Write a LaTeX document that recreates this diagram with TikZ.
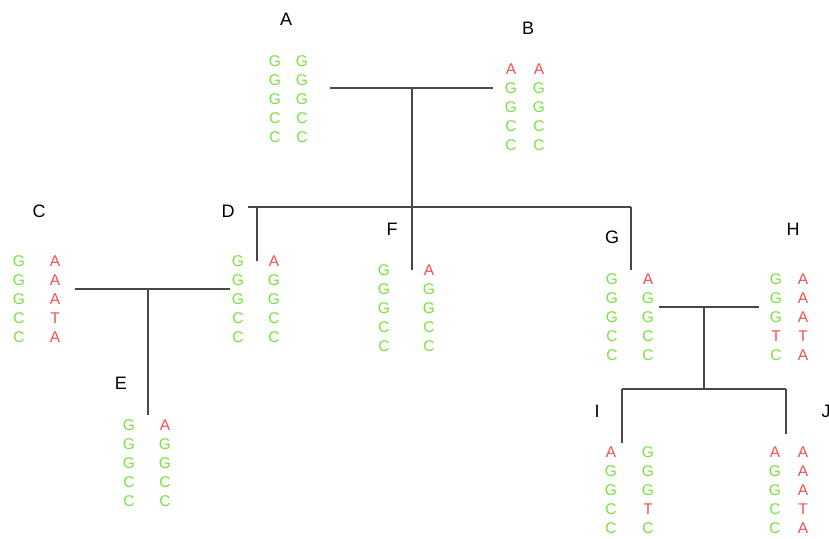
\documentclass[tikz,border=0pt]{standalone}
\usepackage{fontspec}
\setmainfont{Liberation Sans}
\definecolor{seqg}{RGB}{120,226,60}
\definecolor{seqr}{RGB}{240,80,80}
\definecolor{branch}{RGB}{72,72,72}
\tikzset{
  seqletter/.style={inner sep=0pt, text height=11pt, text depth=0pt, font=\fontsize{15.5}{18}\selectfont},
  lbl/.style={inner sep=0pt, font=\fontsize{18}{20}\selectfont, text=black},
  branchline/.style={draw=branch, line width=1.7pt},
}
\newcommand\seqcol[4]{% name, x, y0, list of colour/letter
  \foreach \c/\l [count=\i] in {#4} {
    \node[seqletter, text=seq\c] (#1-\i) at (#2, #3+19*\i-19) {\l};
  }
}
\begin{document}
\begin{tikzpicture}[x=1pt, y=-1pt]
\useasboundingbox (0,0) rectangle (829,538);

% labels
\node[lbl] (labA) at (286,19) {A};
\node[lbl] (labB) at (528,28) {B};
\node[lbl] (labC) at (39,211) {C};
\node[lbl] (labD) at (228,211) {D};
\node[lbl] (labF) at (392,229) {F};
\node[lbl] (labG) at (612,237) {G};
\node[lbl] (labH) at (793,229) {H};
\node[lbl] (labE) at (121,383) {E};
\node[lbl] (labI) at (597,411) {I};
\node[lbl] (labJ) at (826,411) {J};

% sequences
\seqcol{A1}{275}{61}{g/G,g/G,g/G,g/C,g/C}
\seqcol{A2}{302}{61}{g/G,g/G,g/G,g/C,g/C}
\seqcol{B1}{511}{69}{r/A,g/G,g/G,g/C,g/C}
\seqcol{B2}{539}{69}{r/A,g/G,g/G,g/C,g/C}
\seqcol{C1}{19}{261}{g/G,g/G,g/G,g/C,g/C}
\seqcol{C2}{55}{261}{r/A,r/A,r/A,r/T,r/A}
\seqcol{D1}{238}{261}{g/G,g/G,g/G,g/C,g/C}
\seqcol{D2}{274}{261}{r/A,g/G,g/G,g/C,g/C}
\seqcol{F1}{384}{270}{g/G,g/G,g/G,g/C,g/C}
\seqcol{F2}{429}{270}{r/A,g/G,g/G,g/C,g/C}
\seqcol{G1}{612}{279}{g/G,g/G,g/G,g/C,g/C}
\seqcol{G2}{648}{279}{r/A,g/G,g/G,g/C,g/C}
\seqcol{H1}{776}{279}{g/G,g/G,g/G,r/T,g/C}
\seqcol{H2}{803}{279}{r/A,r/A,r/A,r/T,r/A}
\seqcol{E1}{129}{425}{g/G,g/G,g/G,g/C,g/C}
\seqcol{E2}{165}{425}{r/A,g/G,g/G,g/C,g/C}
\seqcol{I1}{611}{452}{r/A,g/G,g/G,g/C,g/C}
\seqcol{I2}{648}{452}{g/G,g/G,g/G,r/T,g/C}
\seqcol{J1}{775}{452}{r/A,g/G,g/G,g/C,g/C}
\seqcol{J2}{803}{452}{r/A,r/A,r/A,r/T,r/A}

% tree coordinates
\coordinate (ab-l) at (330,88);
\coordinate (ab-r) at (493,88);
\coordinate (ab-m) at (412,88);
\coordinate (dg-l) at (248,207);
\coordinate (dg-r) at (631,207);
\coordinate (dg-m) at (412,207);
\coordinate (d-top) at (257,207);
\coordinate (d-end) at (257,261);
\coordinate (f-end) at (412,270);
\coordinate (g-end) at (631,270);
\coordinate (cd-l) at (75,289);
\coordinate (cd-r) at (230,289);
\coordinate (cd-m) at (148,289);
\coordinate (e-end) at (148,415);
\coordinate (gh-l) at (659,307);
\coordinate (gh-r) at (759,307);
\coordinate (gh-m) at (704,307);
\coordinate (ij-m) at (704,389);
\coordinate (ij-l) at (622,389);
\coordinate (ij-r) at (786,389);
\coordinate (i-end) at (622,443);
\coordinate (j-end) at (786,434);

% branches
\draw[branchline] (ab-l) -- (ab-r);
\draw[branchline] (ab-m) -- (dg-m);
\draw[branchline] (dg-l) -- (dg-r);
\draw[branchline] (d-top) -- (d-end);
\draw[branchline] (dg-m) -- (f-end);
\draw[branchline] (dg-r) -- (g-end);
\draw[branchline] (cd-l) -- (cd-r);
\draw[branchline] (cd-m) -- (e-end);
\draw[branchline] (gh-l) -- (gh-r);
\draw[branchline] (gh-m) -- (ij-m);
\draw[branchline] (ij-l) -- (ij-r);
\draw[branchline] (ij-l) -- (i-end);
\draw[branchline] (ij-r) -- (j-end);
\end{tikzpicture}
\end{document}
